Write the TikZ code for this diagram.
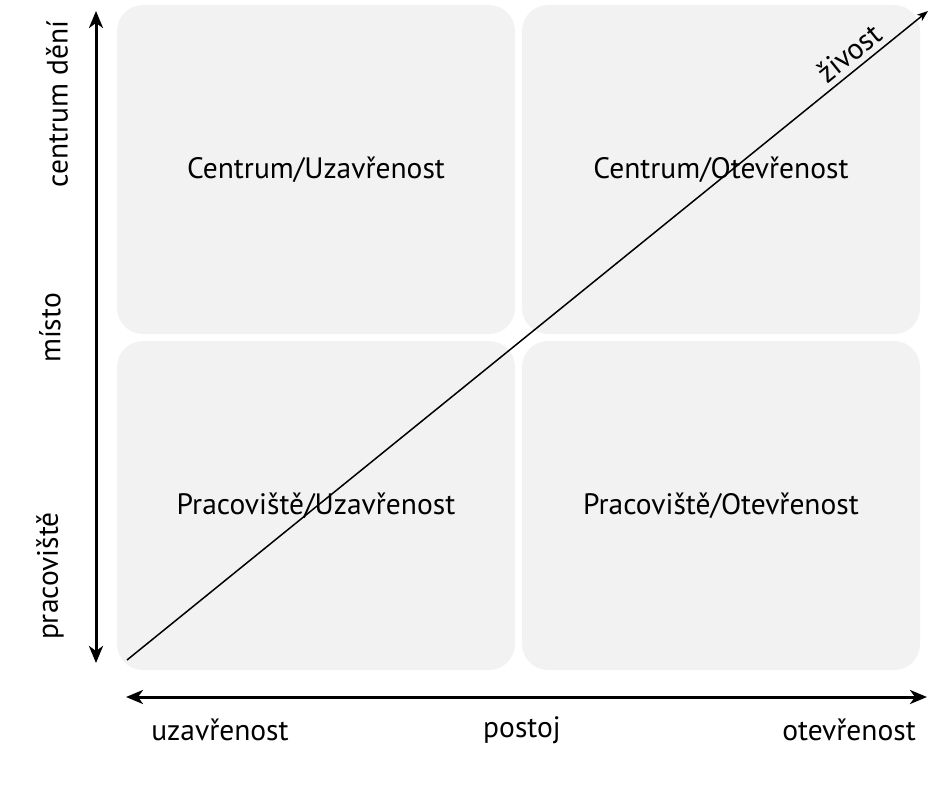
\documentclass[tikz,border=0pt]{standalone}
\usepackage{fontspec}
\setmainfont{PT Sans}
\usetikzlibrary{arrows.meta}
\definecolor{boxgray}{RGB}{241,242,241}
\tikzset{
    quad/.style={fill=boxgray,rounded corners=26pt,minimum width=398pt,minimum height=329pt,inner sep=0pt,font=\fontsize{29.5}{34}\selectfont},
    axislabel/.style={font=\fontsize{29.5}{34}\selectfont},
    bigtip/.style={line width=3pt,{Stealth[length=17pt,width=14pt,inset=5pt]}-{Stealth[length=17pt,width=14pt,inset=5pt]}}
}
\begin{document}
\begin{tikzpicture}[x=1pt,y=-1pt]
    \useasboundingbox (0,0) rectangle (950,800);
    % quadrants
    \node [quad] (cu) at (316,169.5) {Centrum/Uzavřenost};
    \node [quad] (co) at (721,169.5) {Centrum/Otevřenost};
    \node [quad] (pu) at (316,505.5) {Pracoviště/Uzavřenost};
    \node [quad] (po) at (721,505.5) {Pracoviště/Otevřenost};
    % axes
    \coordinate (vtop) at (96,11);
    \coordinate (vbot) at (96,663);
    \coordinate (hleft) at (126,697);
    \coordinate (hright) at (927,697);
    \draw [bigtip] (vtop) -- (vbot);
    \draw [bigtip] (hleft) -- (hright);
    \coordinate (dstart) at (127,660);
    \coordinate (dend) at (928,11);
    \draw [line width=1.5pt,-{Stealth[length=11pt,width=8pt,inset=3pt]}] (dstart) -- (dend)
        node [pos=0.915,sloped,above=2pt,axislabel] (zi) {živost};
    % labels
    \node [axislabel,rotate=90] (cd) at (57,104) {centrum dění};
    \node [axislabel,rotate=90] (mi) at (50,328) {místo};
    \node [axislabel,rotate=90] (pr) at (50,576) {pracoviště};
    \node [axislabel] (uz) at (220,730) {uzavřenost};
    \node [axislabel] (ps) at (522,730) {postoj};
    \node [axislabel] (ot) at (849,730) {otevřenost};
\end{tikzpicture}
\end{document}
